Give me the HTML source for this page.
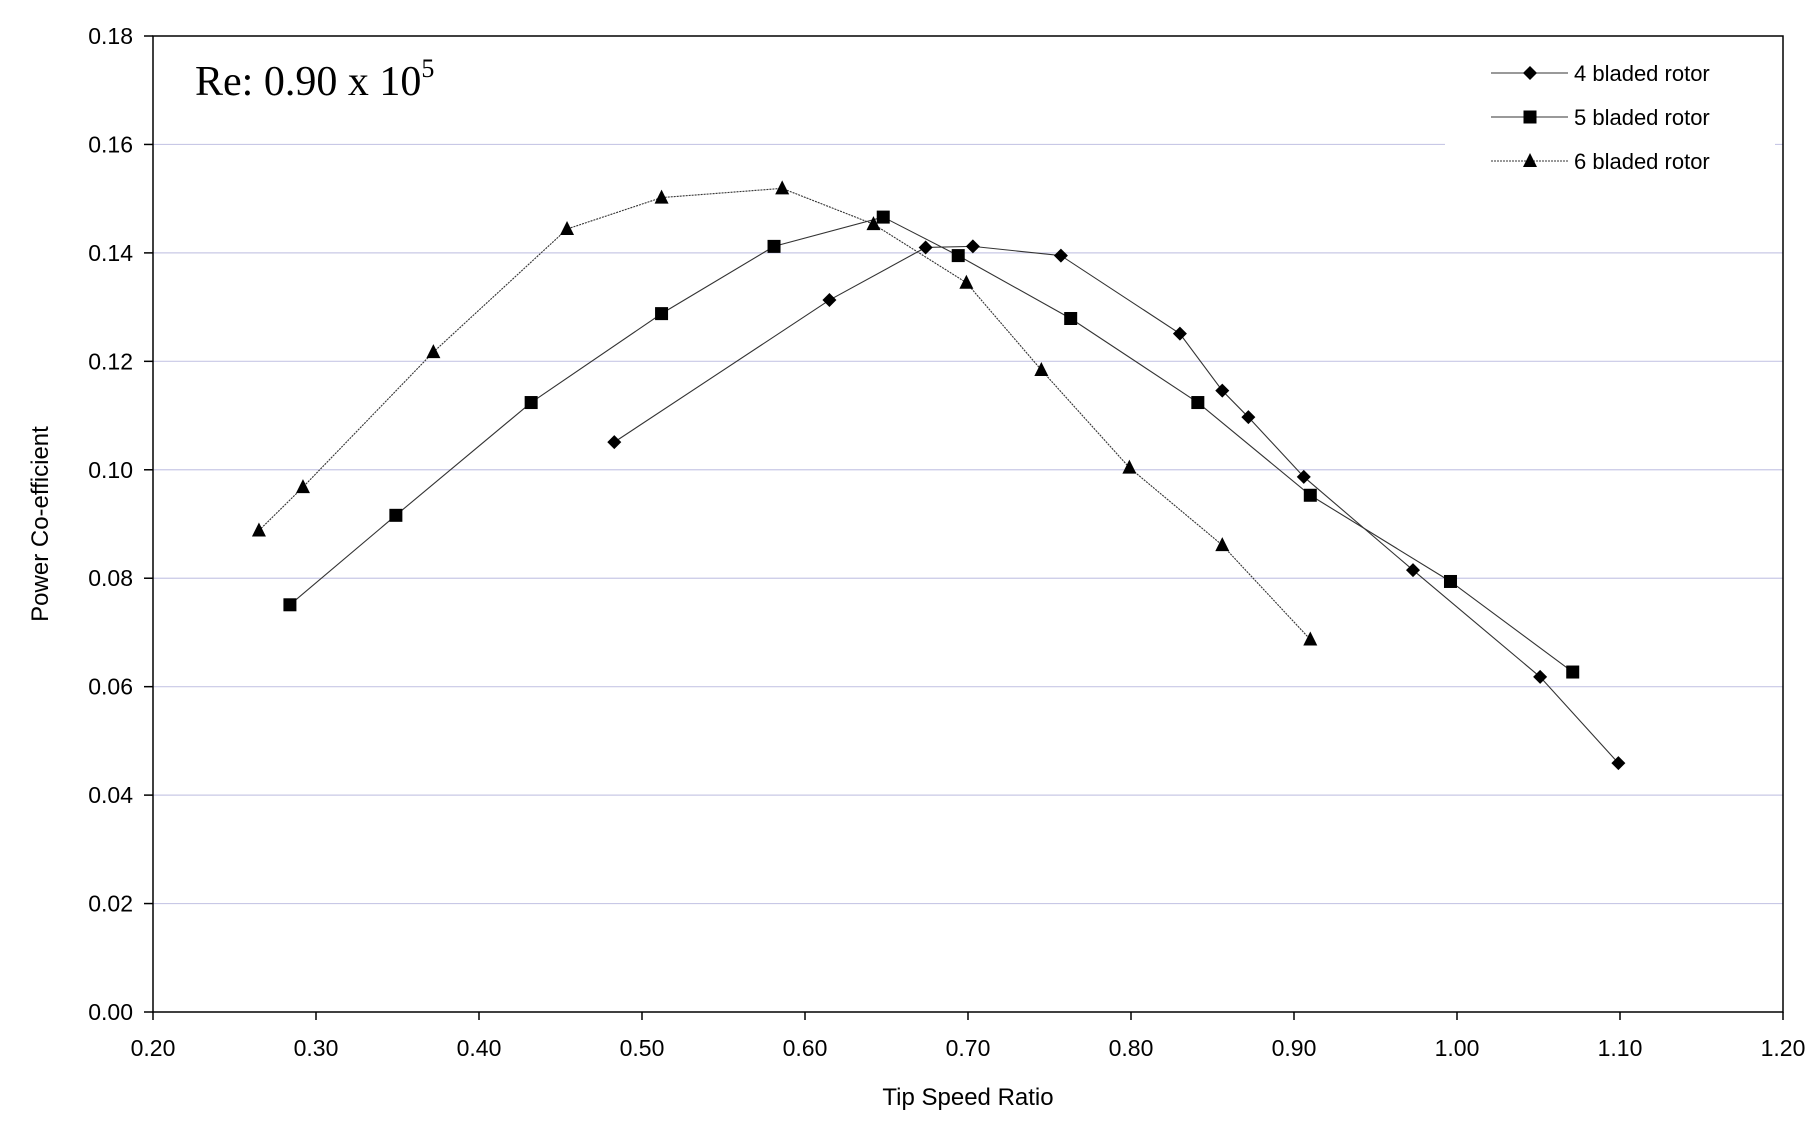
<!DOCTYPE html>
<html><head><meta charset="utf-8"><style>
body{margin:0;background:#fff;}
svg{display:block;font-family:"Liberation Sans",sans-serif;}
</style></head><body>
<svg id="chart" width="1811" height="1140">
<g id="grid"></g>
<g id="axes"></g>
<g id="series"></g>
<text x="195" y="95" font-family="Liberation Serif,serif" font-size="42">Re: 0.90 x 10<tspan dy="-18" font-size="26">5</tspan></text>
<rect x="1445" y="50" width="330" height="140" fill="#fff"/>
<g id="legend"></g>
<text x="968" y="1105" text-anchor="middle" font-size="24">Tip Speed Ratio</text>
<text transform="translate(48,524) rotate(-90)" text-anchor="middle" font-size="24">Power Co-efficient</text>
</svg>
<script>
const seriesNames = ["4 bladed rotor","5 bladed rotor","6 bladed rotor"];
const tsr4 = [0.483,0.615,0.674,0.703,0.757,0.830,0.856,0.872,0.906,0.973,1.051,1.099];
const cp4 = [0.1051,0.1313,0.1410,0.1412,0.1395,0.1251,0.1146,0.1097,0.0987,0.0815,0.0618,0.0459];
const tsr5 = [0.284,0.349,0.432,0.512,0.581,0.648,0.694,0.763,0.841,0.910,0.996,1.071];
const cp5 = [0.0751,0.0916,0.1124,0.1288,0.1412,0.1466,0.1395,0.1279,0.1124,0.0953,0.0794,0.0627];
const tsr6 = [0.265,0.292,0.372,0.454,0.512,0.586,0.642,0.699,0.745,0.799,0.856,0.910];
const cp6 = [0.0888,0.0968,0.1217,0.1444,0.1502,0.1519,0.1453,0.1345,0.1184,0.1004,0.0861,0.0687];
const xTicks = ["0.20","0.30","0.40","0.50","0.60","0.70","0.80","0.90","1.00","1.10","1.20"];
const yTicks = ["0.00","0.02","0.04","0.06","0.08","0.10","0.12","0.14","0.16","0.18"];

const L=153,R=1783,T=36,B=1012;
const xs=v=>L+(v-0.2)/1.0*(R-L);
const ys=v=>B-v/0.18*(B-T);
const NS="http://www.w3.org/2000/svg";
function mk(tag,attrs,parent){const e=document.createElementNS(NS,tag);for(const k in attrs)e.setAttribute(k,attrs[k]);parent.appendChild(e);return e;}
const grid=document.getElementById('grid'),axes=document.getElementById('axes'),ser=document.getElementById('series'),leg=document.getElementById('legend');

yTicks.forEach(t=>{const v=parseFloat(t),y=ys(v);
 if(v>0&&v<0.18){const g=mk('line',{x1:L,x2:R,y1:y,y2:y,stroke:'#c8c8e6','stroke-width':1.2},grid);
 
 }
 const tk=mk('line',{x1:L-9,x2:L,y1:y,y2:y,stroke:'#000','stroke-width':1.5},axes);
 
 
 const tx=mk('text',{x:L-20,y:y+8,'text-anchor':'end','font-size':23},axes);tx.textContent=t;
 
 
});
xTicks.forEach(t=>{const x=xs(parseFloat(t));
 const tk=mk('line',{x1:x,x2:x,y1:B,y2:B+8,stroke:'#000','stroke-width':1.5},axes);
 
 
 const tx=mk('text',{x:x,y:B+44,'text-anchor':'middle','font-size':23},axes);tx.textContent=t;
 
 
});
const box=mk('rect',{x:L,y:T,width:R-L,height:B-T,fill:'none',stroke:'#000','stroke-width':1.5},axes);



function marker(type,x,y,p){let e;
 if(type==0)e=mk('polygon',{points:`${x},${y-7} ${x+7},${y} ${x},${y+7} ${x-7},${y}`,fill:'#000'},p);
 else if(type==1)e=mk('rect',{x:x-6.5,y:y-6.5,width:13,height:13,fill:'#000'},p);
 else e=mk('polygon',{points:`${x},${y-8} ${x+7},${y+6} ${x-7},${y+6}`,fill:'#000'},p);
 return e;}
const allX=[tsr4,tsr5,tsr6],allY=[cp4,cp5,cp6];
allX.forEach((X,i)=>{
 const g=mk('g',{},ser);
 
 
 const pl=mk('polyline',{points:X.map((v,j)=>xs(v)+','+ys(allY[i][j])).join(' '),fill:'none',stroke:'#333','stroke-width':1.1,'stroke-dasharray':i==2?'2,1':'none'},g);
 
 
 X.forEach((v,j)=>{const m=marker(i,xs(v),ys(allY[i][j]),g);
  
  });
 const ly=73+i*44;
 const lg=mk('g',{},leg);
 
 
 mk('line',{x1:1491,x2:1568,y1:ly,y2:ly,stroke:'#333','stroke-width':1.1,'stroke-dasharray':i==2?'2,1':'none'},lg);
 marker(i,1530,ly,lg);
 const t=mk('text',{x:1574,y:ly+8,'font-size':22},lg);t.textContent=seriesNames[i];
});
</script>
</body></html>
